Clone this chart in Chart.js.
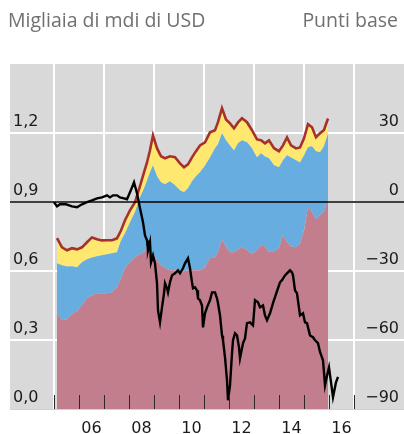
<!DOCTYPE html>
<html>
<head>
<meta charset="utf-8">
<script src="https://cdn.jsdelivr.net/npm/chart.js@4/dist/chart.umd.min.js"></script>
<style>
  html, body { margin: 0; padding: 0; background: #fff; }
  #wrap { position: relative; width: 404px; height: 434px; overflow: hidden; }
  #chart { position: absolute; left: 0; top: 0; }
  .unit { position: absolute; top: 7px; font: 19.5px "Open Sans", sans-serif; color: #707070; line-height: 26px; }
</style>
</head>
<body>
<div id="wrap">
  <canvas id="chart" width="404" height="434"></canvas>
  <div class="unit" style="left:8px">Migliaia di mdi di USD</div>
  <div class="unit" style="right:6px">Punti base</div>
</div>
<script>
// ----- Data -----
const areaYears = [
  2005.12, 2005.32, 2005.52, 2005.72, 2005.92, 2006.12, 2006.32, 2006.52, 2006.72, 2006.92,
  2007.12, 2007.32, 2007.52, 2007.68, 2007.84, 2008.04, 2008.24, 2008.44, 2008.60, 2008.72,
  2008.84, 2008.96, 2009.12, 2009.28, 2009.44, 2009.64, 2009.84, 2010.04, 2010.20, 2010.36,
  2010.52, 2010.68, 2010.84, 2011.04, 2011.24, 2011.44, 2011.56, 2011.72, 2011.88, 2012.04,
  2012.20, 2012.36, 2012.52, 2012.72, 2012.92, 2013.12, 2013.28, 2013.44, 2013.60, 2013.80,
  2014.00, 2014.16, 2014.32, 2014.48, 2014.68, 2014.84, 2015.00, 2015.16, 2015.32, 2015.48,
  2015.64, 2015.80, 2015.96
];
// pink layer (bottom)
const pinkValues = [
  0.412, 0.386, 0.390, 0.412, 0.425, 0.451, 0.481, 0.494, 0.503, 0.503,
  0.503, 0.507, 0.529, 0.568, 0.612, 0.638, 0.660, 0.673, 0.681, 0.703,
  0.677, 0.677, 0.647, 0.625, 0.612, 0.603, 0.603, 0.599, 0.599, 0.603,
  0.603, 0.603, 0.603, 0.616, 0.655, 0.660, 0.681, 0.738, 0.703, 0.681,
  0.681, 0.694, 0.703, 0.690, 0.673, 0.690, 0.712, 0.707, 0.681, 0.686,
  0.699, 0.755, 0.725, 0.707, 0.703, 0.720, 0.777, 0.877, 0.855, 0.825,
  0.842, 0.860, 0.907
];
// blue layer (middle)
const blueValues = [
  0.222, 0.239, 0.230, 0.209, 0.191, 0.187, 0.170, 0.165, 0.161, 0.165,
  0.170, 0.170, 0.152, 0.165, 0.152, 0.174, 0.196, 0.248, 0.278, 0.291,
  0.352, 0.383, 0.365, 0.361, 0.365, 0.387, 0.370, 0.352, 0.343, 0.357,
  0.387, 0.409, 0.426, 0.443, 0.439, 0.474, 0.470, 0.461, 0.465, 0.465,
  0.443, 0.461, 0.465, 0.470, 0.461, 0.404, 0.400, 0.391, 0.409, 0.374,
  0.352, 0.326, 0.378, 0.387, 0.378, 0.352, 0.326, 0.261, 0.287, 0.296,
  0.274, 0.283, 0.291
];
// yellow layer (top), its upper edge is the red total line
const yellowValues = [
  0.109, 0.078, 0.070, 0.078, 0.078, 0.065, 0.074, 0.087, 0.074, 0.065,
  0.061, 0.057, 0.061, 0.043, 0.057, 0.052, 0.043, 0.048, 0.070, 0.078,
  0.096, 0.130, 0.122, 0.113, 0.113, 0.109, 0.122, 0.117, 0.109, 0.104,
  0.104, 0.109, 0.117, 0.100, 0.109, 0.078, 0.096, 0.109, 0.091, 0.096,
  0.096, 0.091, 0.096, 0.087, 0.078, 0.078, 0.057, 0.057, 0.078, 0.074,
  0.070, 0.065, 0.078, 0.052, 0.052, 0.065, 0.074, 0.100, 0.083, 0.061,
  0.083, 0.070, 0.065
];

// black line, right axis (basis points)
const spreadYears = [
  2005.00, 2005.12, 2005.24, 2005.48, 2005.72, 2005.92, 2006.12, 2006.32, 2006.52, 2006.72,
  2006.92, 2007.12, 2007.24, 2007.36, 2007.52, 2007.64, 2007.80, 2007.92, 2008.04, 2008.20,
  2008.32, 2008.44, 2008.56, 2008.64, 2008.72, 2008.76, 2008.84, 2008.88, 2008.96, 2009.04,
  2009.12, 2009.16, 2009.24, 2009.32, 2009.40, 2009.44, 2009.52, 2009.56, 2009.64, 2009.72,
  2009.84, 2009.96, 2010.04, 2010.16, 2010.24, 2010.36, 2010.44, 2010.52, 2010.56, 2010.64,
  2010.72, 2010.76, 2010.84, 2010.92, 2010.96, 2011.04, 2011.12, 2011.24, 2011.32, 2011.44,
  2011.52, 2011.56, 2011.64, 2011.72, 2011.76, 2011.84, 2011.92, 2011.96, 2012.04, 2012.12,
  2012.16, 2012.24, 2012.32, 2012.40, 2012.44, 2012.56, 2012.64, 2012.72, 2012.84, 2012.96,
  2013.04, 2013.16, 2013.24, 2013.36, 2013.44, 2013.52, 2013.64, 2013.76, 2013.84, 2013.96,
  2014.04, 2014.12, 2014.24, 2014.32, 2014.44, 2014.52, 2014.56, 2014.64, 2014.72, 2014.84,
  2014.96, 2015.04, 2015.12, 2015.24, 2015.36, 2015.44, 2015.56, 2015.64, 2015.76, 2015.84,
  2015.92, 2016.00, 2016.16, 2016.28, 2016.36
];
const spreadBps = [
  -0.1, -1.9, -1.0, -1.0, -1.9, -2.3, -1.0, -0.1, 0.7, 1.6,
  2.0, 2.9, 2.0, 2.9, 2.9, 2.0, 1.6, 1.2, 4.2, 8.6,
  3.8, -2.7, -8.8, -14.5, -16.7, -21.0, -17.5, -26.2, -23.2, -26.7,
  -35.3, -47.1, -52.3, -45.8, -39.7, -35.3, -37.5, -39.3, -34.9, -31.9,
  -31.0, -29.7, -31.0, -28.8, -26.7, -24.5, -28.8, -34.9, -37.5, -37.1,
  -38.4, -41.9, -42.7, -45.0, -54.5, -48.4, -45.8, -42.7, -39.3, -39.3,
  -41.9, -44.0, -49.3, -58.0, -60.1, -67.5, -77.5, -86.2, -79.7, -65.8,
  -60.1, -57.1, -58.0, -63.2, -68.0, -61.4, -59.3, -52.7, -52.3, -53.6,
  -42.7, -43.6, -45.8, -45.0, -49.3, -51.4, -48.4, -44.0, -41.4, -37.5,
  -34.9, -34.0, -31.9, -31.0, -29.7, -30.6, -31.9, -38.4, -39.7, -49.3,
  -48.4, -52.3, -52.7, -58.0, -58.8, -60.1, -61.4, -65.2, -68.8, -79.7,
  -75.5, -71.9, -84.9, -78.4, -76.0
];

// axes
const leftTicks = [0, 0.3, 0.6, 0.9, 1.2];
const rightTicks = [-90, -60, -30, 0, 30];
const yearTicks = [2005, 2006, 2007, 2008, 2009, 2010, 2011, 2012, 2013, 2014, 2015, 2016, 2017];

const pts = (xs, ys) => xs.map((x, i) => ({ x: x, y: ys[i] }));
const tickFont = { family: "DejaVu Sans", size: 16 };

// ----- Plot furniture -----
const furniture = {
  id: "furniture",
  beforeDraw(chart) {
    const { ctx, chartArea: a } = chart;
    ctx.save();
    ctx.fillStyle = "#d9d9d9";
    ctx.fillRect(a.left, a.top, a.right - a.left, a.bottom - a.top);
    ctx.restore();
  },
  beforeDatasetDraw(chart, args) {
    if (args.index !== 0) return;
    // zero line of the right axis, above the areas
    const { ctx, chartArea: a } = chart;
    const y = chart.scales.y2.getPixelForValue(0);
    ctx.save();
    ctx.strokeStyle = "#000";
    ctx.lineWidth = 1.6;
    ctx.beginPath();
    ctx.moveTo(a.left, y);
    ctx.lineTo(a.right, y);
    ctx.stroke();
    ctx.restore();
  },
  afterDatasetsDraw(chart) {
    // year marks along the bottom, inside the plot
    const { ctx, chartArea: a } = chart;
    const xs = chart.scales.x;
    ctx.save();
    ctx.strokeStyle = "#2a2a2a";
    ctx.lineWidth = 1;
    ctx.beginPath();
    yearTicks.forEach(yr => {
      const px = Math.round(xs.getPixelForValue(yr)) + 0.5;
      ctx.moveTo(px, a.bottom);
      ctx.lineTo(px, a.bottom - 14);
    });
    ctx.stroke();
    ctx.restore();
  }
};

new Chart(document.getElementById("chart"), {
  type: "line",
  data: {
    datasets: [
      {
        data: pts(spreadYears, spreadBps),
        yAxisID: "y2",
        borderColor: "#000",
        borderWidth: 2.4,
        pointRadius: 0,
        tension: 0,
        fill: false
      },
      {
        data: pts(areaYears, pinkValues),
        yAxisID: "y",
        backgroundColor: "#c27e8d",
        borderWidth: 0,
        pointRadius: 0,
        tension: 0,
        fill: "origin"
      },
      {
        data: pts(areaYears, blueValues),
        yAxisID: "y",
        backgroundColor: "#67ade0",
        borderWidth: 0,
        pointRadius: 0,
        tension: 0,
        fill: "-1"
      },
      {
        data: pts(areaYears, yellowValues),
        yAxisID: "y",
        backgroundColor: "#ffe870",
        borderColor: "#a8302b",
        borderWidth: 2.6,
        pointRadius: 0,
        tension: 0,
        fill: "-1"
      }
    ]
  },
  options: {
    responsive: false,
    animation: false,
    layout: { padding: { left: 10, top: 64, right: 0, bottom: 0 } },
    plugins: { legend: { display: false }, tooltip: { enabled: false } },
    scales: {
      x: {
        type: "linear",
        min: 2003.24,
        max: 2019,
        afterBuildTicks: s => { s.ticks = yearTicks.map(v => ({ value: v })); },
        afterFit: s => { s.height = 25; },
        grid: {
          color: c => (c.tick && c.tick.value % 2 === 1) ? "#ffffff" : "rgba(0,0,0,0)",
          lineWidth: 2,
          drawTicks: false
        },
        border: { display: true, color: "#d2d2d2", width: 1 },
        ticks: {
          autoSkip: false,
          maxRotation: 0,
          padding: 10,
          labelOffset: 12.5,
          color: "#1a1a1a",
          font: tickFont,
          callback: v => (v % 2 === 0 ? String(v).slice(2) : "")
        }
      },
      y: {
        position: "left",
        stacked: true,
        min: 0,
        max: 1.5,
        afterBuildTicks: s => { s.ticks = leftTicks.map(v => ({ value: v })); },
        afterFit: s => { s.width = 0; },
        grid: {
          color: c => (c.tick && c.tick.value === 0) ? "rgba(0,0,0,0)" : "#ffffff",
          lineWidth: 2,
          drawTicks: false
        },
        border: { display: false },
        ticks: {
          mirror: true,
          padding: 3,
          labelOffset: -11,
          color: "#1a1a1a",
          font: tickFont,
          callback: v => v.toFixed(1).replace(".", ",")
        }
      },
      y2: {
        position: "right",
        min: -90,
        max: 60,
        afterBuildTicks: s => { s.ticks = rightTicks.map(v => ({ value: v })); },
        afterFit: s => { s.width = 0; },
        grid: { display: false },
        border: { display: false },
        ticks: {
          mirror: true,
          padding: -5,
          labelOffset: -11,
          color: "#1a1a1a",
          font: tickFont,
          callback: v => (v < 0 ? "\u2212" + Math.abs(v) : String(v))
        }
      }
    }
  },
  plugins: [furniture]
});
</script>
</body>
</html>
